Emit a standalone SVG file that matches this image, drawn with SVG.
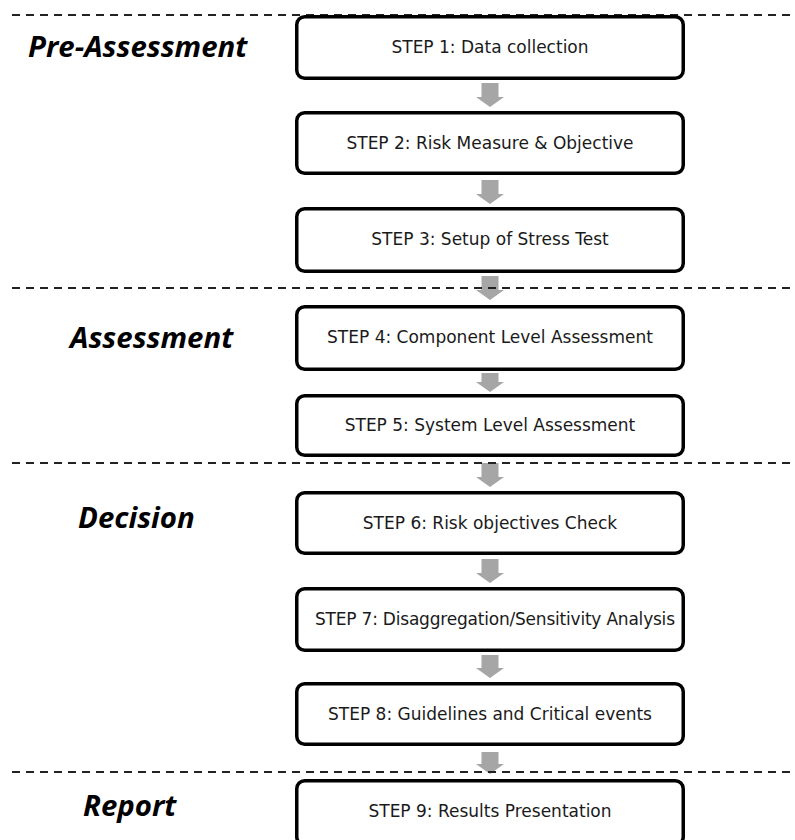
<svg xmlns="http://www.w3.org/2000/svg" width="795" height="840" viewBox="0 0 795 840">
  <style>
    .box { fill: #ffffff; stroke: #000000; stroke-width: 3.5; }
    .step { font-family: "DejaVu Sans", sans-serif; font-size: 17px; fill: #1a1a1a; text-anchor: middle; }
    .phase { font-family: "Open Sans", Lato, sans-serif; font-weight: bold; font-style: italic; font-size: 29.4px; fill: #000000; }
    .divider { stroke: #222222; stroke-width: 2; stroke-dasharray: 8 6; fill: none; }
    .flow { fill: #a6a6a6; }
  </style>

  <!-- phase divider under the first box -->
  <line class="divider" x1="12" y1="15" x2="795" y2="15"/>

  <!-- phase titles -->
  <g id="phase-labels">
    <text class="phase" x="28" y="57">Pre-Assessment</text>
    <text class="phase" x="70" y="348">Assessment</text>
    <text class="phase" x="78" y="528">Decision</text>
    <text class="phase" x="83" y="816">Report</text>
  </g>

  <!-- block arrows between steps -->
  <g id="connectors">
    <polygon class="flow" points="481.5,83 498.5,83 498.5,97 504,97 490,107 476,97 481.5,97"/>
    <polygon class="flow" points="481.5,180 498.5,180 498.5,194 504,194 490,204 476,194 481.5,194"/>
    <polygon class="flow" points="481.5,276 498.5,276 498.5,290 504,290 490,300 476,290 481.5,290"/>
    <polygon class="flow" points="481.5,373 498.5,373 498.5,382 504,382 490,392 476,382 481.5,382"/>
    <polygon class="flow" points="481.5,463 498.5,463 498.5,477 504,477 490,487 476,477 481.5,477"/>
    <polygon class="flow" points="481.5,559 498.5,559 498.5,573 504,573 490,583 476,573 481.5,573"/>
    <polygon class="flow" points="481.5,655 498.5,655 498.5,668 504,668 490,678 476,668 481.5,668"/>
    <polygon class="flow" points="481.5,752 498.5,752 498.5,764 504,764 490,774 476,764 481.5,764"/>
  </g>

  <!-- phase dividers crossing the flow -->
  <line class="divider" x1="12" y1="288" x2="795" y2="288"/>
  <line class="divider" x1="12" y1="463" x2="795" y2="463"/>
  <line class="divider" x1="12" y1="772" x2="795" y2="772"/>

  <g id="step1">
    <rect class="box" x="296.75" y="16.75" width="386.5" height="61.5" rx="8"/>
    <text class="step" x="490" y="53">STEP 1: Data collection</text>
  </g>
  <g id="step2">
    <rect class="box" x="296.75" y="112.75" width="386.5" height="60.5" rx="8"/>
    <text class="step" x="490" y="148.5">STEP 2: Risk Measure &amp; Objective</text>
  </g>
  <g id="step3">
    <rect class="box" x="296.75" y="208.75" width="386.5" height="62.5" rx="8"/>
    <text class="step" x="490" y="245">STEP 3: Setup of Stress Test</text>
  </g>
  <g id="step4">
    <rect class="box" x="296.75" y="306.75" width="386.5" height="62.5" rx="8"/>
    <text class="step" x="490" y="343">STEP 4: Component Level Assessment</text>
  </g>
  <g id="step5">
    <rect class="box" x="296.75" y="395.75" width="386.5" height="59.5" rx="8"/>
    <text class="step" x="490" y="431">STEP 5: System Level Assessment</text>
  </g>
  <g id="step6">
    <rect class="box" x="296.75" y="492.75" width="386.5" height="60.5" rx="8"/>
    <text class="step" x="490" y="528.5">STEP 6: Risk objectives Check</text>
  </g>
  <g id="step7">
    <rect class="box" x="296.75" y="588.75" width="386.5" height="61.5" rx="8"/>
    <text class="step" x="495" y="625" textLength="360" lengthAdjust="spacing">STEP 7: Disaggregation/Sensitivity Analysis</text>
  </g>
  <g id="step8">
    <rect class="box" x="296.75" y="683.75" width="386.5" height="60.5" rx="8"/>
    <text class="step" x="490" y="719.5">STEP 8: Guidelines and Critical events</text>
  </g>
  <g id="step9">
    <rect class="box" x="296.75" y="780.75" width="386.5" height="64" rx="8"/>
    <text class="step" x="490" y="817">STEP 9: Results Presentation</text>
  </g>
</svg>
